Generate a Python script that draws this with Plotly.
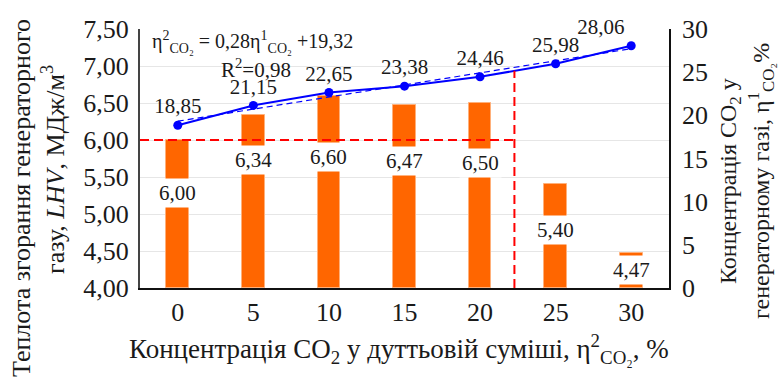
import numpy as np
import plotly.graph_objects as go

# CO2 share in the blast mixture, %
co2_blast = [0, 5, 10, 15, 20, 25, 30]
# Lower heating value of the producer gas, MJ/m3
lhv = [6.00, 6.34, 6.60, 6.47, 6.50, 5.40, 4.47]
# CO2 share in the producer gas, %
co2_gas = [18.85, 21.15, 22.65, 23.38, 24.46, 25.98, 28.06]

lhv_ticks = [4.0, 4.5, 5.0, 5.5, 6.0, 6.5, 7.0, 7.5]
gas_ticks = [0, 5, 10, 15, 20, 25, 30]

# Linear trend of the gas CO2 share
trend_slope = 0.28
trend_intercept = 19.32
r_squared = 0.98

# LHV threshold
lhv_limit = 6.0

FONT = "Liberation Serif"
TEXT = "#1a1a1a"
BAR_COLOR = "#ff6600"
LINE_COLOR = "#0000ff"
RED = "#ff0000"

# plot-area geometry (px)
W, H = 780, 387
ML, MR, MT, MB = 140, 111, 29, 99
X_RANGE = [-2.5, 32.5]

# heights (left-axis units) at which the bar value labels sit
bar_label_y = [5.28, 5.73, 5.77, 5.72, 5.69, 4.78, 4.24]


def comma(v, nd=2):
    return f"{v:.{nd}f}".replace(".", ",")


def px_to_paper_x(px):
    return (px - ML) / (W - ML - MR)


def px_to_paper_y(py):
    return (H - MB - py) / (H - MT - MB)


# crossing point of LHV with the threshold
x_cross = None
for i in range(len(lhv) - 1):
    if lhv[i] >= lhv_limit > lhv[i + 1]:
        t = (lhv[i] - lhv_limit) / (lhv[i] - lhv[i + 1])
        x_cross = co2_blast[i] + t * (co2_blast[i + 1] - co2_blast[i])
gas_at_cross = float(np.interp(x_cross, co2_blast, co2_gas))

trend_x = np.array([co2_blast[0], co2_blast[-1]], dtype=float)
trend_y = trend_slope * trend_x + trend_intercept

fig = go.Figure()

fig.add_trace(go.Bar(
    x=co2_blast, y=[v - lhv_ticks[0] for v in lhv], base=lhv_ticks[0],
    width=1.5, marker=dict(color=BAR_COLOR, line=dict(color="#ffb07a", width=1)),
    yaxis="y", showlegend=False, hoverinfo="skip",
))

fig.add_trace(go.Scatter(
    x=trend_x, y=trend_y, mode="lines", yaxis="y2",
    line=dict(color=LINE_COLOR, width=1.2, dash="6px,4px"),
    showlegend=False, hoverinfo="skip",
))

fig.add_trace(go.Scatter(
    x=co2_blast, y=co2_gas, mode="lines+markers+text", yaxis="y2",
    line=dict(color=LINE_COLOR, width=2),
    marker=dict(color=LINE_COLOR, size=9),
    text=[comma(v) for v in co2_gas],
    textposition=["top center"] * 6 + ["top left"],
    textfont=dict(family=FONT, size=21, color=TEXT),
    cliponaxis=False,
    showlegend=False, hoverinfo="skip",
))

shapes = [
    dict(type="line", xref="x", yref="y", x0=X_RANGE[0], x1=x_cross,
         y0=lhv_limit, y1=lhv_limit, layer="above",
         line=dict(color=RED, width=2, dash="9px,5px")),
    dict(type="line", xref="x", yref="y2", x0=x_cross, x1=x_cross,
         y0=0, y1=gas_at_cross, layer="above",
         line=dict(color=RED, width=2, dash="9px,5px")),
]

annotations = []
for xv, v, ly in zip(co2_blast, lhv, bar_label_y):
    annotations.append(dict(
        x=xv, y=ly, xref="x", yref="y", text=comma(v), showarrow=False,
        xanchor="center", yanchor="middle",
        font=dict(family=FONT, size=21, color=TEXT),
        bgcolor="white", borderpad=2,
    ))

eta2 = "η<sup>2</sup><sub>CO₂</sub>"
eta1 = "η<sup>1</sup><sub>CO₂</sub>"
annotations.append(dict(
    x=px_to_paper_x(150), y=px_to_paper_y(42), xref="paper", yref="paper",
    xanchor="left", yanchor="middle", showarrow=False,
    text=f"{eta2} = {comma(trend_slope)}{eta1} +{comma(trend_intercept)}",
    font=dict(family=FONT, size=20, color=TEXT),
))
annotations.append(dict(
    x=px_to_paper_x(219), y=px_to_paper_y(68), xref="paper", yref="paper",
    xanchor="left", yanchor="middle", showarrow=False,
    text=f"R<sup>2</sup>={comma(r_squared)}",
    font=dict(family=FONT, size=21, color=TEXT),
))


def title_note(px, py, text, size, angle=0, xanchor="center"):
    return dict(x=px_to_paper_x(px), y=px_to_paper_y(py), xref="paper", yref="paper",
                xanchor=xanchor, yanchor="middle", textangle=angle, showarrow=False,
                font=dict(family=FONT, size=size, color=TEXT), text=text)


# axis titles
annotations += [
    title_note(21, 198, "Теплота згорання генераторного", 26, -90),
    title_note(53, 170, "газу, <i>LHV</i>, МДж/м<sup>3</sup>", 26, -90),
    title_note(730, 181, "Концентрація CO<sub>2</sub> у", 24, -90),
    title_note(761, 181, f"генераторному газі, {eta1}%", 24, -90),
    title_note(127, 349, f"Концентрація CO<sub>2</sub> у дуттьовій суміші, {eta2}, %", 27,
               xanchor="left"),
]

tick_font = dict(family=FONT, size=26, color=TEXT)

fig.update_layout(
    width=W, height=H,
    margin=dict(l=ML, r=MR, t=MT, b=MB, pad=0),
    paper_bgcolor="white", plot_bgcolor="white",
    font=dict(family=FONT, color=TEXT),
    separators=", ",
    bargap=0,
    shapes=shapes,
    annotations=annotations,
    xaxis=dict(
        range=X_RANGE, tickvals=co2_blast, ticktext=[str(v) for v in co2_blast],
        showgrid=False, zeroline=False, showline=True, linecolor="#111", linewidth=1.5,
        ticks="", tickfont=tick_font,
    ),
    yaxis=dict(
        range=[lhv_ticks[0], lhv_ticks[-1]], tickvals=lhv_ticks,
        ticktext=[comma(v) for v in lhv_ticks],
        showgrid=True, gridcolor="#e6e6e6", gridwidth=1, zeroline=False,
        showline=True, linecolor="#444", linewidth=2,
        ticks="outside", ticklen=4, tickcolor="rgba(0,0,0,0)", tickfont=tick_font,
    ),
    yaxis2=dict(
        range=[gas_ticks[0], gas_ticks[-1]], tickvals=gas_ticks,
        ticktext=[str(v) for v in gas_ticks],
        overlaying="y", side="right", showgrid=False, zeroline=False,
        showline=True, linecolor="#111", linewidth=1.5,
        ticks="outside", ticklen=6, tickcolor="rgba(0,0,0,0)", tickfont=tick_font,
    ),
)

fig.write_html("out.html")
